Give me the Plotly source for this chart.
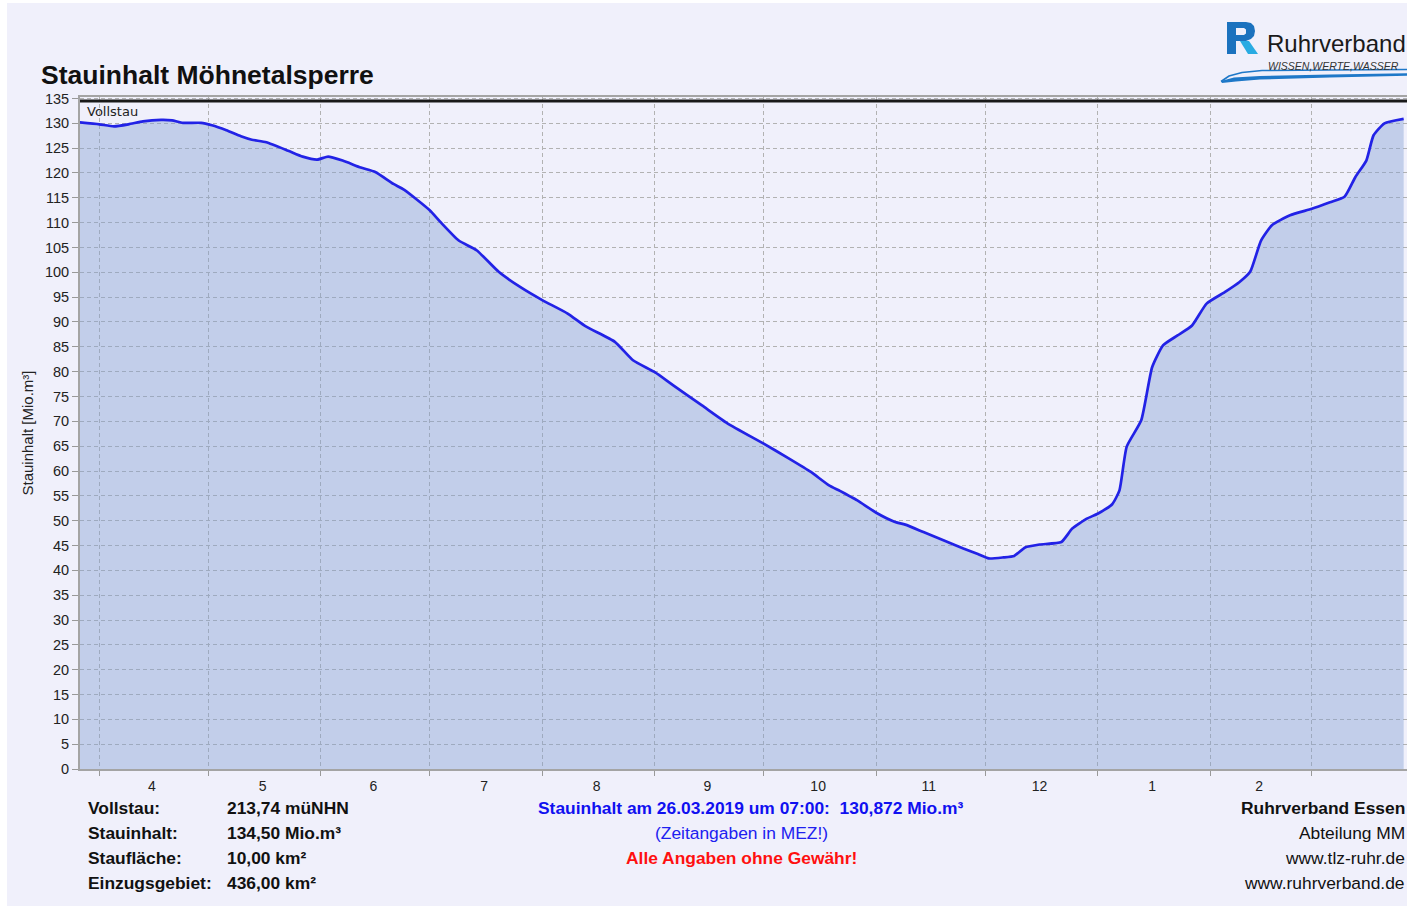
import plotly.graph_objects as go

# ---------------- data ----------------
DATES = [
    "2018-03-26 07:00", "2018-04-01", "2018-04-05", "2018-04-09", "2018-04-13",
    "2018-04-18", "2018-04-21", "2018-04-24", "2018-04-29", "2018-05-02",
    "2018-05-06", "2018-05-10", "2018-05-13", "2018-05-17", "2018-05-23",
    "2018-05-27", "2018-05-31", "2018-06-03", "2018-06-07", "2018-06-12",
    "2018-06-16", "2018-06-21", "2018-06-24", "2018-07-01", "2018-07-04",
    "2018-07-09", "2018-07-14", "2018-07-20", "2018-07-26", "2018-08-01",
    "2018-08-08", "2018-08-13", "2018-08-21", "2018-08-26", "2018-09-01",
    "2018-09-06", "2018-09-14", "2018-09-21", "2018-10-01", "2018-10-08",
    "2018-10-14", "2018-10-19", "2018-10-22", "2018-10-25", "2018-10-27",
    "2018-11-01", "2018-11-06", "2018-11-09", "2018-11-14", "2018-11-20",
    "2018-11-25", "2018-11-29", "2018-12-02", "2018-12-06", "2018-12-09",
    "2018-12-12", "2018-12-16", "2018-12-22", "2018-12-25", "2018-12-29",
    "2019-01-01", "2019-01-05", "2019-01-07", "2019-01-09", "2019-01-13",
    "2019-01-16", "2019-01-19", "2019-01-23", "2019-01-27", "2019-01-31",
    "2019-02-05", "2019-02-09", "2019-02-12", "2019-02-15", "2019-02-18",
    "2019-02-23", "2019-03-01", "2019-03-06", "2019-03-10", "2019-03-13",
    "2019-03-16", "2019-03-18", "2019-03-21", "2019-03-26 07:00",
]
STAUINHALT = [
    130.2, 129.8, 129.4, 129.8, 130.4,
    130.7, 130.6, 130.1, 130.1, 129.6,
    128.6, 127.4, 126.7, 126.2, 124.5,
    123.3, 122.7, 123.3, 122.5, 121.1,
    120.2, 117.8, 116.6, 112.5, 110.1,
    106.4, 104.4, 100.1, 97.0, 94.4,
    91.7, 89.1, 86.0, 82.3, 79.9,
    77.3, 73.2, 69.6, 65.5, 62.5,
    59.8, 57.1, 56.0, 54.8, 54.0,
    51.6, 49.8, 49.2, 47.7, 45.9,
    44.4, 43.3, 42.4, 42.6, 42.9,
    44.6, 45.2, 45.7, 48.4, 50.4,
    51.4, 53.3, 56.1, 64.9, 70.2,
    80.9, 85.3, 87.3, 89.3, 93.7,
    96.0, 98.0, 100.1, 106.4, 109.5,
    111.5, 112.8, 114.1, 115.2, 119.2,
    122.5, 127.6, 130.0, 130.9,
]
VOLLSTAU = 134.5

MONTH_MID = [
    "2018-04-15 12:00", "2018-05-16", "2018-06-15 12:00", "2018-07-16",
    "2018-08-16", "2018-09-15 12:00", "2018-10-16", "2018-11-15 12:00",
    "2018-12-16", "2019-01-16", "2019-02-14 12:00",
]
MONTH_LABELS = ["4", "5", "6", "7", "8", "9", "10", "11", "12", "1", "2"]

X_START = "2018-03-26 16:00"
X_END = "2019-03-27 05:00"

INFO_LABELS = ["Vollstau:", "Stauinhalt:", "Staufläche:", "Einzugsgebiet:"]
INFO_VALUES = ["213,74 müNHN", "134,50 Mio.m³", "10,00 km²", "436,00 km²"]
RIGHT_LINES = ["<b>Ruhrverband Essen</b>", "Abteilung MM", "www.tlz-ruhr.de", "www.ruhrverband.de"]

# ---------------- layout helpers ----------------
W, H = 1407, 906
L, R, T, B = 80, 1407, 97, 769


def px(x):
    return (x - L) / (R - L)


def py(y):
    return (B - y) / (B - T)


def pts_path(pts, close=True):
    s = "M " + " L ".join(f"{px(x):.5f},{py(y):.5f}" for x, y in pts)
    return s + (" Z" if close else "")


FONT = "Liberation Sans, Arial, sans-serif"
BG = "#F0F0FB"

fig = go.Figure()
fig.add_trace(go.Scatter(
    x=DATES, y=STAUINHALT, mode="lines",
    line=dict(color="#2222E6", width=2.7, shape="spline", smoothing=0.5),
    fill="tozeroy", fillcolor="rgba(130,160,210,0.42)",
    hoverinfo="x+y", showlegend=False,
))

shapes = []
# page background (white thin border top/left)
shapes.append(dict(type="rect", xref="paper", yref="paper",
                   x0=px(7), x1=px(1420), y0=py(920), y1=py(3),
                   fillcolor=BG, line=dict(width=0), layer="below"))
# Vollstau line
shapes.append(dict(type="line", xref="paper", yref="y", x0=0, x1=1,
                   y0=VOLLSTAU, y1=VOLLSTAU, line=dict(color="#1a1a1a", width=3)))
# logo: R
shapes.append(dict(type="path", xref="paper", yref="paper", layer="above",
                   path=pts_path([(1227, 22), (1246, 22), (1251, 23), (1254, 26), (1255, 31),
                                  (1254, 36), (1251, 39), (1246, 41), (1236, 41), (1236, 54),
                                  (1227, 54)]) + " " +
                   pts_path([(1236, 28), (1236, 35), (1244, 35), (1246, 33.5),
                             (1246, 29.5), (1244, 28)]),
                   fillcolor="#1B72BE", line=dict(width=0)))
shapes.append(dict(type="path", xref="paper", yref="paper", layer="above",
                   path=pts_path([(1240, 41), (1249, 41), (1258, 54), (1248, 54)]),
                   fillcolor="#29ABE2", line=dict(width=0)))
# logo swoosh
shapes.append(dict(type="path", xref="paper", yref="paper", layer="above",
                   path=pts_path([(1221, 81), (1234, 77.5), (1260, 76), (1330, 74.5), (1420, 73),
                                  (1420, 75.5), (1330, 77.5), (1260, 79.5), (1236, 81.5), (1222, 83)]),
                   fillcolor="#1E78C8", line=dict(width=0)))
shapes.append(dict(type="path", xref="paper", yref="paper", layer="above",
                   path=pts_path([(1221, 81.5), (1229, 76), (1242, 72.5), (1262, 70.5),
                                  (1330, 70), (1420, 69.5)], close=False),
                   line=dict(color="#1E78C8", width=1.6)))

ann = []
ann.append(dict(xref="paper", yref="paper", x=px(39), y=py(75), xanchor="left", yanchor="middle",
                text="<b>Stauinhalt Möhnetalsperre</b>", showarrow=False,
                font=dict(family=FONT, size=26.5, color="#111111")))
ann.append(dict(xref="paper", yref="y", x=px(85), y=VOLLSTAU, xanchor="left", yanchor="top",
                yshift=-1, text="Vollstau", showarrow=False,
                font=dict(family="DejaVu Sans, Verdana, sans-serif", size=13, color="#222222")))
# logo text
ann.append(dict(xref="paper", yref="paper", x=px(1265), y=py(43), xanchor="left", yanchor="middle",
                text="Ruhrverband", showarrow=False,
                font=dict(family=FONT, size=24, color="#1a1a1a")))
ann.append(dict(xref="paper", yref="paper", x=px(1266), y=py(66), xanchor="left", yanchor="middle",
                text="<i>WISSEN,WERTE,WASSER</i>", showarrow=False,
                font=dict(family=FONT, size=10.5, color="#333333")))
# info block
rows_y = [808, 833, 858, 883]
for lab, val, yy in zip(INFO_LABELS, INFO_VALUES, rows_y):
    ann.append(dict(xref="paper", yref="paper", x=px(86), y=py(yy), xanchor="left", yanchor="middle",
                    text=f"<b>{lab}</b>", showarrow=False,
                    font=dict(family=FONT, size=17.4, color="#111111")))
    ann.append(dict(xref="paper", yref="paper", x=px(225), y=py(yy), xanchor="left", yanchor="middle",
                    text=f"<b>{val}</b>", showarrow=False,
                    font=dict(family=FONT, size=17.4, color="#111111")))
# center block
ann.append(dict(xref="paper", yref="paper", x=px(751), y=py(808), xanchor="center", yanchor="middle",
                text="<b>Stauinhalt am 26.03.2019 um 07:00:\u00a0 130,872 Mio.m³</b>", showarrow=False,
                font=dict(family=FONT, size=17.4, color="#1010F0")))
ann.append(dict(xref="paper", yref="paper", x=px(741), y=py(833), xanchor="center", yanchor="middle",
                text="(Zeitangaben in MEZ!)", showarrow=False,
                font=dict(family=FONT, size=17.4, color="#2020F0")))
ann.append(dict(xref="paper", yref="paper", x=px(741.5), y=py(858), xanchor="center", yanchor="middle",
                text="<b>Alle Angaben ohne Gewähr!</b>", showarrow=False,
                font=dict(family=FONT, size=17.4, color="#FF1010")))
# right block
for txt, yy in zip(RIGHT_LINES, rows_y):
    ann.append(dict(xref="paper", yref="paper", x=px(1407), y=py(yy), xanchor="right", yanchor="middle",
                    text=txt, showarrow=False,
                    font=dict(family=FONT, size=17.4, color="#111111")))

fig.update_layout(
    width=W, height=H,
    margin=dict(l=L, r=W - R, t=T, b=H - B, autoexpand=False),
    paper_bgcolor="white", plot_bgcolor="rgba(0,0,0,0)",
    font=dict(family=FONT, color="#222222"),
    shapes=shapes, annotations=ann,
    showlegend=False,
)
fig.update_xaxes(
    type="date", range=[X_START, X_END],
    tickmode="array", tickvals=MONTH_MID, ticktext=MONTH_LABELS,
    ticks="", showgrid=False, ticklabelstandoff=3,
    tickfont=dict(family=FONT, size=14, color="#222222"),
    showline=True, linecolor="#A4A4A4", linewidth=2, mirror=True,
    zeroline=False,
    minor=dict(tickmode="linear", tick0="2018-04-01", dtick="M1", ticks="outside", ticklen=5,
               tickcolor="#999999", showgrid=True, gridcolor="#B2B2B2", griddash="4px,3px",
               gridwidth=1),
)
fig.update_yaxes(
    range=[0, 135.3], tickmode="linear", tick0=0, dtick=5,
    showgrid=True, gridcolor="#B2B2B2", griddash="4px,3px", gridwidth=1,
    ticks="outside", ticklen=6, tickcolor="#999999",
    showline=True, linecolor="#A4A4A4", linewidth=2, zeroline=False,
    tickfont=dict(family=FONT, size=14.5, color="#222222"),
    title=dict(text="Stauinhalt [Mio.m³]", font=dict(family=FONT, size=15, color="#222222"),
               standoff=8),
)

fig.write_html("out.html", config={"displayModeBar": False},
               post_script="document.body.style.margin='0px';")
